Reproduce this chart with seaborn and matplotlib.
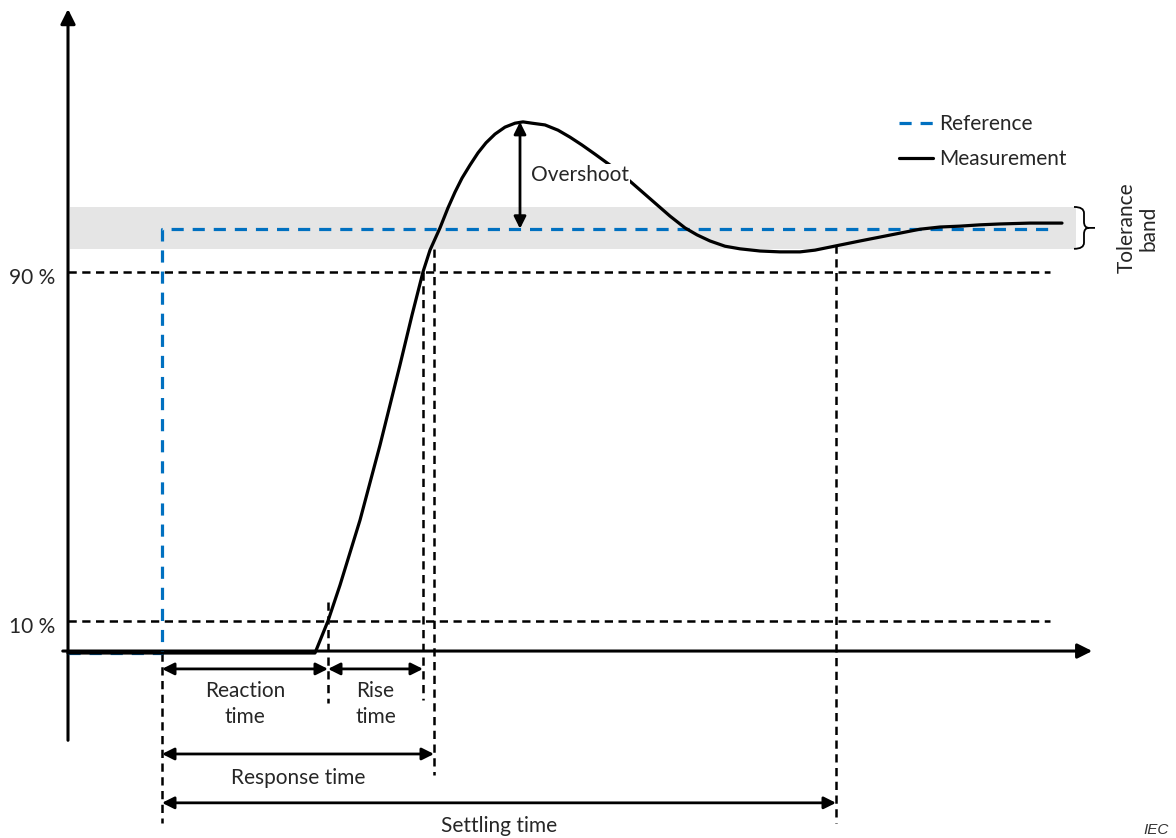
import numpy as np
import pandas as pd
import seaborn as sns
import matplotlib.pyplot as plt
from matplotlib.path import Path
from matplotlib.patches import PathPatch

# time in ms (step at t=0), value in % of the reference
meas_t = [-94, 153, 166, 178, 198, 218, 238, 250, 261, 268, 278, 286, 293, 300, 308,
          316, 324, 333, 343, 353, 361, 370, 383, 396, 408, 420, 433, 448, 463, 478,
          493, 508, 523, 535, 548, 563, 578, 598, 618, 638, 653, 668, 683, 698, 718,
          738, 758, 778, 798, 818, 838, 868, 900]
meas_v = [2.75, 2.75, 10.1, 18.3, 33.2, 50.4, 68.8, 80.2, 90.1, 95.1, 100.2, 104.8, 108.4, 111.6, 114.6,
          117.4, 119.7, 121.7, 123.3, 124.2, 124.5, 124.2, 123.8, 122.6, 121.0, 119.2, 117.1, 114.6, 111.9, 108.9,
          105.9, 102.9, 100.2, 98.6, 97.2, 96.0, 95.4, 94.9, 94.7, 94.7, 95.1, 95.8, 96.5, 97.2, 98.1,
          99.0, 99.9, 100.4, 100.6, 100.9, 101.1, 101.3, 101.3]
ref_t = [-94, 0, 0, 893]
ref_v = [2.75, 2.75, 100, 100]

band = (95.4, 105)
levels = [90, 10]
level_labels = ['90 %', '10 %']

t_step, t_react, t_rise, t_resp, t_settle = 0, 166, 261, 272, 674
t_peak, v_peak = 358, 124.5

sns.set_style('white')
plt.rcParams['font.family'] = ['Lato', 'DejaVu Sans']

fig = plt.figure(figsize=(11.76, 8.38), dpi=100)
ax = fig.add_axes([0, 0, 1, 1])
ax.set_xlim(-162, 1014)
ax.set_ylim(-39.66, 152.44)
ax.axis('off')

blue = '#0070C0'
fs = 15

# tolerance band
ax.fill_between([-92, 914], band[0], band[1], color='#e5e5e5', lw=0, zorder=0)

# axes arrows
ax.annotate('', xy=(-94, 151), xytext=(-94, -17.9),
            arrowprops=dict(arrowstyle='-|>', lw=2.2, color='black', mutation_scale=22))
ax.annotate('', xy=(933, 3.2), xytext=(-102, 3.2),
            arrowprops=dict(arrowstyle='-|>', lw=2.2, color='black', mutation_scale=22))

# 90 % / 10 % lines
for lv, lab in zip(levels, level_labels):
    ax.plot([-94, 888], [lv, lv], color='black', lw=1.8, dashes=(3.3, 2.2))
    ax.text(-107, lv - 1.3, lab, ha='right', va='center', fontsize=fs)

# vertical markers
vmarks = [(t_step, 2.75, -36.2), (t_react, 14.4, -8.7), (t_rise, 90, -8.0),
          (t_resp, 95.4, -25.2), (t_settle, 96.3, -36.2)]
for t, y0, y1 in vmarks:
    ax.plot([t, t], [y0, y1], color='black', lw=1.8, dashes=(3.3, 2.2))

# reference and measurement
ref = pd.DataFrame({'t': ref_t, 'v': ref_v})
meas = pd.DataFrame({'t': meas_t, 'v': meas_v})
sns.lineplot(data=ref, x='t', y='v', sort=False, estimator=None, ax=ax,
             color=blue, lw=2.3, label='Reference', zorder=3)
ax.lines[-1].set_dashes((3.8, 2.8))
sns.lineplot(data=meas, x='t', y='v', sort=False, estimator=None, ax=ax,
             color='black', lw=2.3, label='Measurement', zorder=4)

ax.legend(loc='upper left', bbox_to_anchor=(0.757, 0.874), frameon=False,
          fontsize=fs, handlelength=1.65, handletextpad=0.3, labelspacing=0.72,
          borderaxespad=0)

# double arrows
def span(x0, x1, y, text=None, ty=None):
    ax.annotate('', xy=(x1, y), xytext=(x0, y),
                arrowprops=dict(arrowstyle='<|-|>', lw=2, color='black',
                                mutation_scale=18, shrinkA=0, shrinkB=0))
    if text:
        ax.text((x0 + x1) / 2, ty, text, ha='center', va='center', fontsize=fs,
                linespacing=1.4)

span(t_step, t_react, -0.9, 'Reaction\ntime', -9.0)
span(t_react, t_rise, -0.9, 'Rise\ntime', -9.0)
span(t_step, t_resp, -20.4, 'Response time', -25.8)
span(t_step, t_settle, -31.6, 'Settling time', -36.8)

# overshoot
ax.annotate('', xy=(t_peak, v_peak), xytext=(t_peak, 100),
            arrowprops=dict(arrowstyle='<|-|>', lw=2, color='black',
                            mutation_scale=18, shrinkA=0, shrinkB=0))
ax.text(369, 112.3, 'Overshoot', ha='left', va='center', fontsize=fs, zorder=5,
        bbox=dict(facecolor='white', edgecolor='none', pad=1.0))

# curly brace for the tolerance band
bx0, bx1, bx2 = 912, 922, 933
top, bot = band[1], band[0]
ym = (top + bot) / 2
r = 1.4
verts = [(bx0, top), (bx1, top), (bx1, top - r), (bx1, ym + r), (bx1, ym), (bx1 + 5, ym),
         (bx1 + 5, ym), (bx2, ym),
         (bx1 + 5, ym), (bx1, ym), (bx1, ym - r), (bx1, bot + r), (bx1, bot), (bx0, bot)]
codes = [Path.MOVETO, Path.CURVE3, Path.CURVE3, Path.LINETO, Path.CURVE3, Path.CURVE3,
         Path.MOVETO, Path.LINETO,
         Path.MOVETO, Path.CURVE3, Path.CURVE3, Path.LINETO, Path.CURVE3, Path.CURVE3]
ax.add_patch(PathPatch(Path(verts, codes), fill=False, lw=1.3, color='black'))
ax.text(976, ym, 'Tolerance\nband', rotation=90, ha='center', va='center',
        fontsize=fs, linespacing=1.1)

ax.text(981, -39.4, 'IEC', ha='left', va='bottom', fontsize=11, style='italic',
        color='#333333', family='Liberation Sans')

fig.savefig('out.png', dpi=100)
